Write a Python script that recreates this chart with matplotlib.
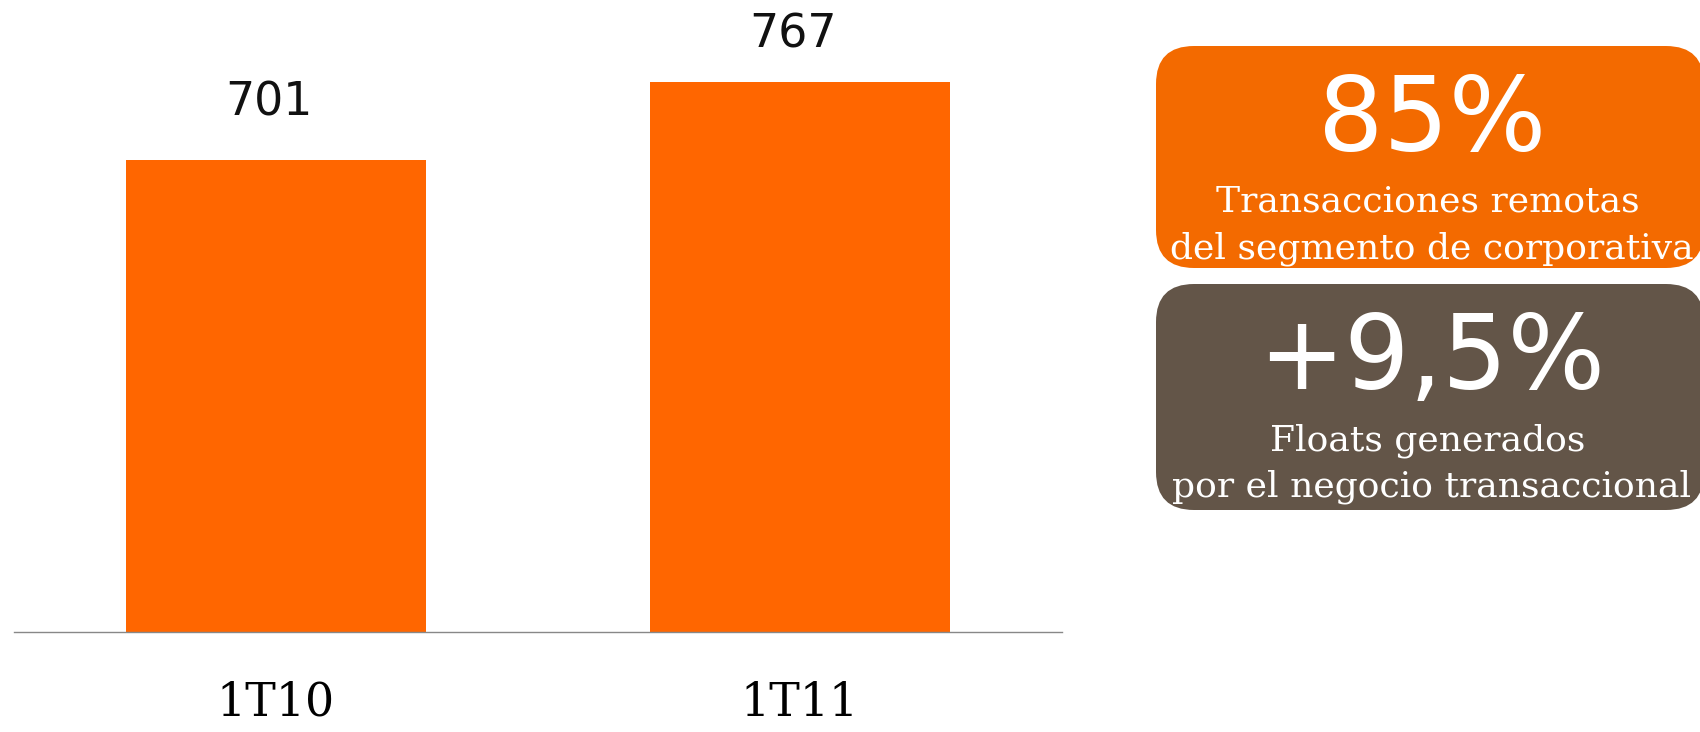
import matplotlib
matplotlib.use("Agg")
import matplotlib.pyplot as plt
from matplotlib.patches import FancyBboxPatch

# datos del grafico
periodos = ["1T10", "1T11"]
valores = [701, 767]

kpi_valores = ["85%", "+9,5%"]
kpi_textos = [
    "Transacciones remotas\ndel segmento de corporativa",
    "Floats generados\npor el negocio transaccional",
]

naranja = "#FF6600"
colores_kpi = ["#F36A00", "#635548"]

fig = plt.figure(figsize=(17, 7.32), dpi=100)

# barras
ax = fig.add_axes([14 / 1700, 100 / 732, 1048 / 1700, 632 / 732])
x = range(len(periodos))
barras = ax.bar(x, valores, width=0.572, color=naranja, zorder=2)
ax.set_xlim(-0.5, 1.5)
ax.set_ylim(300, 837)

label_pad = [32, 25]
for b, v, p in zip(barras, valores, label_pad):
    ax.annotate(str(v), (b.get_x() + b.get_width() / 2, v),
                xytext=(-5, p), textcoords="offset points",
                ha="center", va="baseline", fontsize=33,
                family="DejaVu Sans", color="#111111")

ax.set_xticks(list(x))
ax.set_xticklabels(periodos, family="DejaVu Serif", fontsize=33)
ax.tick_params(axis="x", length=0, pad=35)
ax.set_yticks([])
for s in ["top", "right", "left"]:
    ax.spines[s].set_visible(False)
ax.spines["bottom"].set_color("#888888")
ax.spines["bottom"].set_linewidth(1.0)
ax.patch.set_alpha(0)

# recuadros de indicadores (coordenadas en pixeles)
ov = fig.add_axes([0, 0, 1, 1])
ov.set_xlim(0, 1700)
ov.set_ylim(732, 0)
ov.axis("off")
ov.patch.set_alpha(0)

cajas = [(46, 268), (284, 510)]
for (top, bot), color, val, txt in zip(cajas, colores_kpi, kpi_valores, kpi_textos):
    caja = FancyBboxPatch((1156, top), 548, bot - top,
                          boxstyle="round,pad=0,rounding_size=38",
                          facecolor=color, edgecolor="none")
    ov.add_patch(caja)
    ov.text(1432, top + 105, val, ha="center", va="baseline",
            fontsize=74, color="white", family="DejaVu Sans")
    lineas = txt.split("\n")
    ov.text(1428, top + 166, lineas[0], ha="center", va="baseline",
            fontsize=26, color="white", family="DejaVu Serif")
    ov.text(1432, top + 212, lineas[1], ha="center", va="baseline",
            fontsize=26, color="white", family="DejaVu Serif")

fig.savefig("out.png", dpi=100)
